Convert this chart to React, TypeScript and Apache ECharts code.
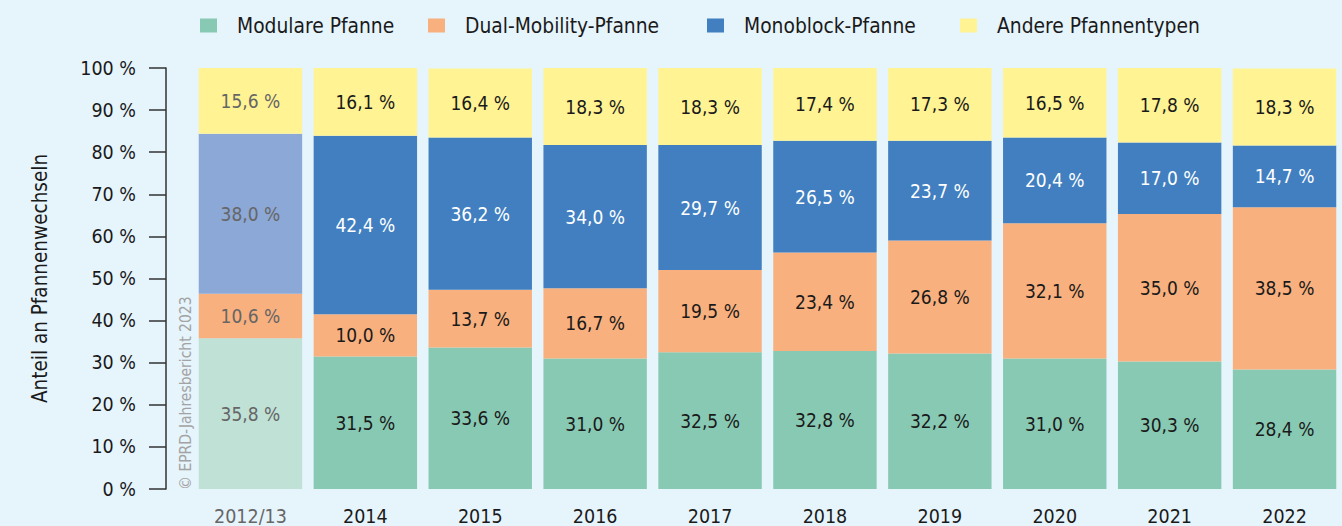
import React, { useEffect, useRef } from "react";
import * as echarts from "echarts";

const categories = ["2012/13", "2014", "2015", "2016", "2017", "2018", "2019", "2020", "2021", "2022"];
const modular = [35.8, 31.5, 33.6, 31.0, 32.5, 32.8, 32.2, 31.0, 30.3, 28.4];
const dualMobility = [10.6, 10.0, 13.7, 16.7, 19.5, 23.4, 26.8, 32.1, 35.0, 38.5];
const monoblock = [38.0, 42.4, 36.2, 34.0, 29.7, 26.5, 23.7, 20.4, 17.0, 14.7];
const others = [15.6, 16.1, 16.4, 18.3, 18.3, 17.4, 17.3, 16.5, 17.8, 18.3];
const seriesNames = ["Modulare Pfanne", "Dual-Mobility-Pfanne", "Monoblock-Pfanne", "Andere Pfannentypen"];

const FONT = "'DejaVu Sans Condensed', 'DejaVu Sans', sans-serif";

export default function App() {
  const ref = useRef<HTMLDivElement>(null);
  useEffect(() => {
    if (!ref.current) return;
    const chart = echarts.init(ref.current, undefined, { renderer: "svg" });
    const colors = ["#88C9B3", "#F8B07E", "#417FC0", "#FFF394"];
    const fadedColors = ["#C0E1D6", "#F8B07E", "#8CA8D6", "#FFF394"];
    const labelColors = ["#1a1a1a", "#1a1a1a", "#ffffff", "#1a1a1a"];
    const datasets = [modular, dualMobility, monoblock, others];
    const legendLefts = [200, 428, 707, 960];
    const fmt = (v: number) => v.toFixed(1).replace(".", ",") + " %";
    chart.setOption({
      animation: false,
      backgroundColor: "#E6F4FC",
      textStyle: { fontFamily: FONT },
      legend: seriesNames.map((n, i) => ({
        top: 15,
        left: legendLefts[i],
        padding: 0,
        itemWidth: 17,
        itemHeight: 14,
        icon: "rect",
        textStyle: { fontSize: 20.8, color: "#1a1a1a", fontFamily: FONT, padding: [0, 0, 0, 15] },
        data: [n],
      })),
      grid: { left: 193, right: 0, top: 68, bottom: 37 },
      xAxis: {
        type: "category",
        data: categories,
        axisLine: { show: false },
        axisTick: { show: false },
        axisLabel: {
          fontSize: 19.5,
          margin: 17,
          fontFamily: FONT,
          color: (v: string) => (v === "2012/13" ? "#666666" : "#1a1a1a"),
        },
      },
      yAxis: {
        type: "value",
        min: 0,
        max: 100,
        interval: 10,
        offset: 27,
        name: "Anteil an Pfannenwechseln",
        nameLocation: "middle",
        nameGap: 116,
        nameTextStyle: { fontSize: 20.5, color: "#1a1a1a", fontFamily: FONT },
        axisLine: { show: true, lineStyle: { color: "#333333", width: 1.5 } },
        axisTick: { show: true, length: 17, lineStyle: { color: "#333333", width: 1.5 } },
        splitLine: { show: false },
        axisLabel: { fontSize: 19.5, color: "#1a1a1a", margin: 30, formatter: "{value} %", fontFamily: FONT },
      },
      series: datasets.map((d, si) => ({
        name: seriesNames[si],
        type: "bar",
        stack: "total",
        barCategoryGap: "10%",
        itemStyle: { color: colors[si] },
        label: {
          show: true,
          position: "inside",
          fontSize: 19,
          fontFamily: FONT,
          color: labelColors[si],
          formatter: (p: any) => fmt(p.value),
        },
        data: d.map((v, i) =>
          i === 0
            ? { value: v, itemStyle: { color: fadedColors[si] }, label: { color: "#666666" } }
            : v
        ),
      })),
      graphic: [
        {
          type: "text",
          x: 186,
          y: 490,
          rotation: Math.PI / 2,
          style: {
            text: "© EPRD-Jahresbericht 2023",
            fill: "#a3a3a3",
            fontSize: 15.5,
            fontFamily: FONT,
            align: "left",
            verticalAlign: "middle",
          },
        },
      ],
    });
    return () => chart.dispose();
  }, []);
  return <div ref={ref} style={{ position: "absolute", left: 0, top: 0, width: 1342, height: 526 }} />;
}
